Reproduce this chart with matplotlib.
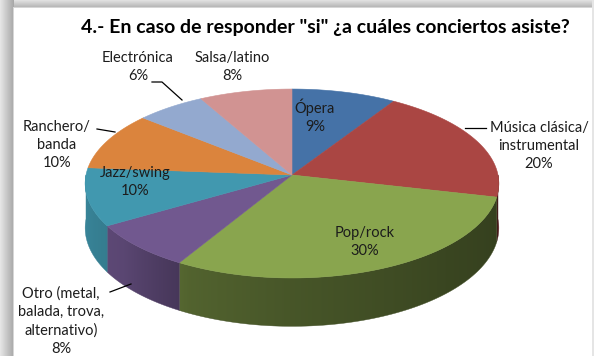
import numpy as np
import matplotlib
matplotlib.use("Agg")
import matplotlib.pyplot as plt
from matplotlib.patches import Polygon
from matplotlib.colors import to_rgb

# Survey answers: which concerts people attend
categories = ["Ópera", "Música clásica/\ninstrumental", "Pop/rock",
              "Otro (metal,\nbalada, trova,\nalternativo)", "Jazz/swing",
              "Ranchero/\nbanda", "Electrónica", "Salsa/latino"]
values = [9, 20, 30, 8, 10, 10, 6, 8]
colors = ["#4572A7", "#AA4643", "#89A54E", "#71588F", "#4198AF",
          "#DB843D", "#93A9CF", "#D19392"]
title = '4.- En caso de responder "si" ¿a cuáles conciertos asiste?'

W, H = 594, 356
fig = plt.figure(figsize=(W / 100, H / 100), dpi=100)
ax = fig.add_axes([0, 0, 1, 1])
ax.set_xlim(0, W)
ax.set_ylim(H, 0)
ax.axis("off")

# --- frame with soft drop shadow on the top/left ---
bg = np.ones((H, W, 3))
for x in range(14):
    g = 0.90 - 0.24 * (x / 13)
    bg[:, x, :] = g
for y in range(8):
    g = 0.88 - 0.18 * (y / 7)
    bg[y, 14:, :] = np.minimum(bg[y, 14:, :], g)
bg[8:, 13, :] = 0.84
bg[7, 13:, :] = 0.84
bg[:, 592:, :] = 0.90
ax.imshow(bg, extent=(0, W, H, 0), zorder=0, interpolation="nearest")

# --- 3-D pie geometry (perspective-tilted disk) ---
cx, cy = 292, 175
A, B = 206, 93.7
persp = 0.09
depth = 44


def proj(theta, z=0.0, r=1.0):
    s, c = np.sin(theta), np.cos(theta)
    f = 1.0 / (1.0 + persp * s * r)
    return cx + A * r * c * f, cy - B * r * s * f + depth * z * f


def side_shade(theta_deg):
    t = theta_deg % 360
    return np.interp(t, [180, 215, 240, 270, 320, 360],
                     [0.88, 0.80, 0.60, 0.52, 0.42, 0.38])


total = float(sum(values))
fracs = np.array(values) / total
start = 90.0
bounds = []
for fr in fracs:
    end = start - fr * 360.0
    bounds.append((start, end))
    start = end

# side walls: only the front half (180..360 deg) is visible
for (a0, a1), col in zip(bounds, colors):
    rgb = np.array(to_rgb(col))
    lo, hi = min(a0, a1) % 360, None
    hi = lo + abs(a0 - a1)
    # intersect [lo, hi] with the visible range, allowing for wrap-around
    for off in (-360, 0, 360):
        v0, v1 = max(lo + off, 180), min(hi + off, 360)
        if v1 <= v0:
            continue
        th = np.radians(np.linspace(v0, v1, 80))
        top = [proj(t) for t in th]
        bot = [proj(t, 1.0) for t in th[::-1]]
        poly = Polygon(top + bot, closed=True, facecolor="none",
                       edgecolor="none", zorder=2)
        ax.add_patch(poly)
        xs = np.array([p[0] for p in top + bot])
        ys = np.array([p[1] for p in top + bot])
        x0, x1 = xs.min() - 1, xs.max() + 1
        y0, y1 = ys.min() - 1, ys.max() + 1
        ncol = max(int(x1 - x0) * 2, 2)
        colx = np.linspace(x0, x1, ncol)
        # angle for each column on the front half of the rim
        cosv = np.clip((colx - cx) / A, -1, 1)
        ang = 360 - np.degrees(np.arccos(cosv))
        shades = np.array([rgb * side_shade(a) for a in ang])
        img = np.clip(shades[None, :, :], 0, 1)
        im = ax.imshow(img, extent=(x0, x1, y1, y0), aspect="auto",
                       interpolation="bilinear", zorder=2)
        im.set_clip_path(poly)
        edge_c = np.clip(rgb * side_shade(0.5 * (v0 + v1)), 0, 1)
        ax.add_patch(Polygon(top + bot, closed=True, facecolor="none",
                             edgecolor=edge_c, lw=0.3, zorder=2))

# top faces
for (a0, a1), col in zip(bounds, colors):
    th = np.radians(np.linspace(a0, a1, 120))
    pts = [(cx, cy)] + [proj(t) for t in th]
    ax.add_patch(Polygon(pts, closed=True, facecolor=col, edgecolor=col,
                         lw=0.4, zorder=3))

# --- text ---
font = "Lato"
ax.text(325, 28, title, ha="center", va="center", fontsize=14,
        fontweight="bold", family=font, color="black", zorder=5)

pcts = [f"{round(v / total * 100):d}%" for v in values]
label_pos = [(315, 116), (539, 146), (365, 242), (61, 321),
             (135, 182), (57, 145), (138, 67), (232, 67)]
for name, pct, (lx, ly) in zip(categories, pcts, label_pos):
    ax.text(lx, ly, f"{name}\n{pct}", ha="center", va="center",
            fontsize=10.5, family=font, color="#1c1c1c",
            linespacing=1.4, zorder=6)

# leader lines for labels placed outside the pie
leaders = [[(465, 128), (486, 128)],
           [(110, 292), (131, 284)],
           [(97, 129), (115, 132)],
           [(152, 82), (162, 82), (182, 100)]]
for seg in leaders:
    xs, ys = zip(*seg)
    ax.plot(xs, ys, color="black", lw=0.9, zorder=6)

fig.savefig("out.png", dpi=100)
